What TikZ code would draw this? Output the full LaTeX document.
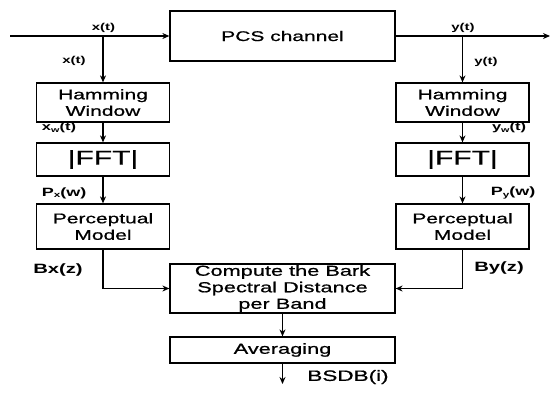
\documentclass[tikz,border=0pt]{standalone}
\usepackage{fontspec}
\setmainfont{Liberation Sans}[FakeStretch=1.5,UprightFeatures={FakeBold=0.8}]
\usetikzlibrary{arrows.meta}
\newcommand\lsub[1]{\raisebox{-1.2pt}{\scalebox{0.65}{#1}}}
\begin{document}
\begin{tikzpicture}[x=1pt,y=-1pt,
  box/.style={draw,line width=1.25pt,minimum width=133pt,inner sep=0pt,align=center,
    font=\fontsize{14}{16.5}\selectfont},
  lbl/.style={inner sep=0pt,font=\bfseries\fontsize{10}{12}\selectfont},
  arr/.style={-{Stealth[length=7pt,width=6pt]},line width=1.25pt}]
\useasboundingbox (0,0) rectangle (551,397);
% boxes
\node[box,minimum width=225pt,minimum height=50pt] (pcs) at (282.5,36) {PCS channel};
\node[box,minimum height=39pt] (hamL) at (103,102.5) {Hamming\\Window};
\node[box,minimum height=33pt,font=\fontsize{20}{22}\selectfont] (fftL) at (103,159.5) {|FFT|};
\node[box,minimum height=45pt] (percL) at (103,226.5) {Perceptual\\Model};
\node[box,minimum height=39pt] (hamR) at (462.5,102.5) {Hamming\\Window};
\node[box,minimum height=33pt,font=\fontsize{20}{22}\selectfont] (fftR) at (462.5,159.5) {|FFT|};
\node[box,minimum height=45pt] (percR) at (462.5,226.5) {Perceptual\\Model};
\node[box,minimum width=225pt,minimum height=49pt,font=\fontsize{14.5}{16.5}\selectfont] (comp) at (282.5,288.5) {Compute the Bark\\Spectral Distance\\per Band};
\node[box,minimum width=225pt,minimum height=26pt,font=\fontsize{14.5}{16.5}\selectfont] (avg) at (282.5,350) {Averaging};
% coordinates
\coordinate (in) at (10,36);
\coordinate (out) at (550,36);
\coordinate (bl) at (103,36);
\coordinate (br) at (462.5,36);
\coordinate (fin) at (282.5,384);
% connectors
\draw[arr] (in) -- (pcs.west);
\draw[arr] (pcs.east) -- (out);
\draw[arr] (bl) -- (hamL.north);
\draw[arr] (br) -- (hamR.north);
\draw[arr] (hamL) -- (fftL);
\draw[arr] (fftL) -- (percL);
\draw[arr] (hamR) -- (fftR);
\draw[arr] (fftR) -- (percR);
\draw[arr] (percL.south) |- (comp.west);
\draw[arr] (percR.south) |- (comp.east);
\draw[arr] (comp) -- (avg);
\draw[arr] (avg.south) -- (fin);
% labels
\node[lbl] (lx1) at (103.5,28) {x(t)};
\node[lbl] (lx2) at (74,61) {x(t)};
\node[lbl,font=\bfseries\fontsize{11}{12}\selectfont] (lxw) at (59,128) {x\lsub{w}(t)};
\node[lbl,font=\bfseries\fontsize{12}{14}\selectfont] (lpx) at (64,193) {P\lsub{x}(w)};
\node[lbl,font=\bfseries\fontsize{13.5}{15}\selectfont] (lbx) at (58,270) {Bx(z)};
\node[lbl] (ly1) at (463,28) {y(t)};
\node[lbl] (ly2) at (486,62) {y(t)};
\node[lbl,font=\bfseries\fontsize{11}{12}\selectfont] (lyw) at (509,128) {y\lsub{w}(t)};
\node[lbl,font=\bfseries\fontsize{12}{14}\selectfont] (lpy) at (513,193) {P\lsub{y}(w)};
\node[lbl,font=\bfseries\fontsize{13.5}{15}\selectfont] (lby) at (499,268) {By(z)};
\node[lbl,font=\fontsize{15}{17}\selectfont] (lout) at (348,377) {BSDB(i)};
\end{tikzpicture}
\end{document}
